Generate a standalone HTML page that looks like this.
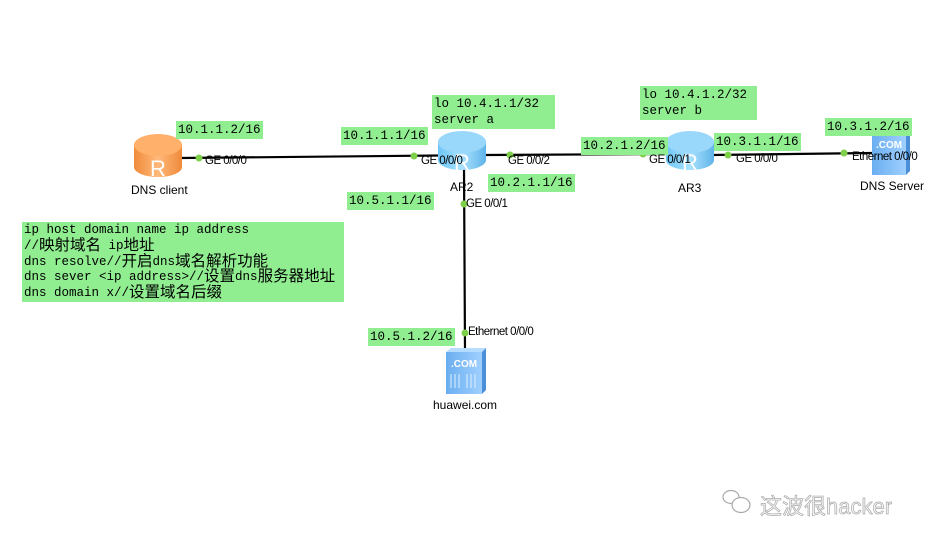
<!DOCTYPE html>
<html><head><meta charset="utf-8"><style>
body{margin:0;width:933px;height:545px;background:#fff;position:relative;overflow:hidden}
.g{position:absolute;background:#90EE90;font-family:"Liberation Mono","Noto Sans CJK SC",monospace;font-size:12.5px;line-height:16px;color:#000;padding:1px 2px;white-space:pre}
.g div{height:15.8px;line-height:15.8px;overflow:visible}
.g span{font-size:15.5px;font-family:"Noto Sans CJK SC",sans-serif;line-height:10px;vertical-align:-1px}
.t{position:absolute;font-family:"Liberation Sans",sans-serif;font-size:11.5px;color:#000;white-space:pre;letter-spacing:-0.5px}
.n{position:absolute;font-family:"Liberation Sans",sans-serif;font-size:12px;color:#000;white-space:pre}
</style></head><body>
<svg width="933" height="545" style="position:absolute;left:0;top:0">
<defs>
<linearGradient id="bl" x1="0" x2="1"><stop offset="0" stop-color="#6ec5f5"/><stop offset="0.5" stop-color="#a9e2ff"/><stop offset="1" stop-color="#5fb3e8"/></linearGradient>
<linearGradient id="or" x1="0" x2="1"><stop offset="0" stop-color="#f08a3a"/><stop offset="0.5" stop-color="#ffb97a"/><stop offset="1" stop-color="#ee8a3a"/></linearGradient>
<linearGradient id="sv" x1="0" x2="1"><stop offset="0" stop-color="#6aaef0"/><stop offset="1" stop-color="#9fd0ff"/></linearGradient>
</defs>
<g stroke="#000" stroke-width="2.2">
<line x1="180" y1="158" x2="440" y2="155.5"/>
<line x1="484" y1="155" x2="668" y2="154"/>
<line x1="712" y1="155" x2="872" y2="153"/>
<line x1="464" y1="168" x2="465" y2="350"/>
</g>
<g transform="translate(134,134)">
<path d="M0,11 v22 a24,10 0 0 0 48,0 v-22z" fill="url(#or)"/>
<ellipse cx="24" cy="11" rx="24" ry="11" fill="#ffb06a"/>
<text x="24" y="42" font-family="Liberation Sans" font-size="22" fill="#fff" text-anchor="middle">R</text>
</g>
<g transform="translate(438,131)">
<path d="M0,11 v18 a24,10 0 0 0 48,0 v-18z" fill="url(#bl)"/>
<ellipse cx="24" cy="11" rx="24" ry="11" fill="#9ad8fb"/>
<text x="24" y="39" font-family="Liberation Sans" font-size="22" fill="#fff" text-anchor="middle">R</text>
</g>
<g transform="translate(666,131)">
<path d="M0,11 v18 a24,10 0 0 0 48,0 v-18z" fill="url(#bl)"/>
<ellipse cx="24" cy="11" rx="24" ry="11" fill="#9ad8fb"/>
<text x="24" y="39" font-family="Liberation Sans" font-size="22" fill="#fff" text-anchor="middle">R</text>
</g>
<g transform="translate(872,128)">
<rect x="0" y="4" width="34" height="43" fill="url(#sv)"/>
<polygon points="0,4 5,0 38,0 34,4" fill="#b8dcff"/>
<polygon points="34,4 38,0 38,43 34,47" fill="#4a8fd8"/>
<text x="17" y="20" font-family="Liberation Sans" font-weight="bold" font-size="10" fill="#fff" text-anchor="middle">.COM</text>
</g>
<g transform="translate(446,348)">
<rect x="0" y="4" width="36" height="42" fill="url(#sv)"/>
<polygon points="0,4 5,0 40,0 36,4" fill="#b8dcff"/>
<polygon points="36,4 40,0 40,42 36,46" fill="#4a8fd8"/>
<text x="18" y="19" font-family="Liberation Sans" font-weight="bold" font-size="10" fill="#fff" text-anchor="middle">.COM</text>
<g stroke="#dff0ff" stroke-width="1"><line x1="5" y1="26" x2="5" y2="40"/><line x1="9" y1="26" x2="9" y2="40"/><line x1="13" y1="26" x2="13" y2="40"/><line x1="21" y1="26" x2="21" y2="40"/><line x1="25" y1="26" x2="25" y2="40"/><line x1="29" y1="26" x2="29" y2="40"/></g>
</g>
<g fill="#7ed04a">
<circle cx="199" cy="158" r="3.5"/><circle cx="414" cy="156" r="3.5"/><circle cx="510" cy="155" r="3.5"/>
<circle cx="643" cy="154" r="3.5"/><circle cx="728" cy="155" r="3.5"/><circle cx="844" cy="153" r="3.5"/>
<circle cx="464" cy="204" r="3.5"/><circle cx="465" cy="333" r="3.5"/>
</g>
<g fill="none" stroke="#aaa" stroke-width="1.2">
<ellipse cx="731" cy="497" rx="8" ry="6.5"/><ellipse cx="741" cy="505" rx="9" ry="7.5" fill="#fff"/>
</g>
</svg>
<div class="g" style="left:176px;top:121px">10.1.1.2/16</div>
<div class="g" style="left:341px;top:127px">10.1.1.1/16</div>
<div class="g" style="left:432px;top:95px;width:119px">lo 10.4.1.1/32
server a</div>
<div class="g" style="left:347px;top:192px">10.5.1.1/16</div>
<div class="g" style="left:488px;top:174px">10.2.1.1/16</div>
<div class="g" style="left:581px;top:137px">10.2.1.2/16</div>
<div class="g" style="left:640px;top:86px;width:113px">lo 10.4.1.2/32
server b</div>
<div class="g" style="left:714px;top:133px">10.3.1.1/16</div>
<div class="g" style="left:825px;top:118px">10.3.1.2/16</div>
<div class="g" style="left:368px;top:328px">10.5.1.2/16</div>
<div class="g" style="left:22px;top:222px;width:318px;height:78px"><div>ip host domain name ip address</div><div>//<span>映射域名</span> ip<span>地址</span></div><div>dns resolve//<span>开启</span>dns<span>域名解析功能</span></div><div>dns sever &lt;ip address&gt;//<span>设置</span>dns<span>服务器地址</span></div><div>dns domain x//<span>设置域名后缀</span></div></div>
<div class="t" style="left:205px;top:155px">GE 0/0/0</div>
<div class="t" style="left:421px;top:155px">GE 0/0/0</div>
<div class="t" style="left:508px;top:155px">GE 0/0/2</div>
<div class="t" style="left:649px;top:154px">GE 0/0/1</div>
<div class="t" style="left:736px;top:153px">GE 0/0/0</div>
<div class="t" style="left:852px;top:151px">Ethernet 0/0/0</div>
<div class="t" style="left:466px;top:198px">GE 0/0/1</div>
<div class="t" style="left:468px;top:326px">Ethernet 0/0/0</div>
<div class="n" style="left:131px;top:183px">DNS client</div>
<div class="n" style="left:450px;top:180px">AR2</div>
<div class="n" style="left:678px;top:181px">AR3</div>
<div class="n" style="left:860px;top:179px">DNS Server</div>
<div class="n" style="left:433px;top:398px">huawei.com</div>
<div style="position:absolute;left:760px;top:489px;font-family:'Liberation Sans','Noto Sans CJK SC',sans-serif;font-size:22px;color:#f6f6f6;-webkit-text-stroke:0.7px #aaa;white-space:nowrap">这波很hacker</div>
</body></html>
